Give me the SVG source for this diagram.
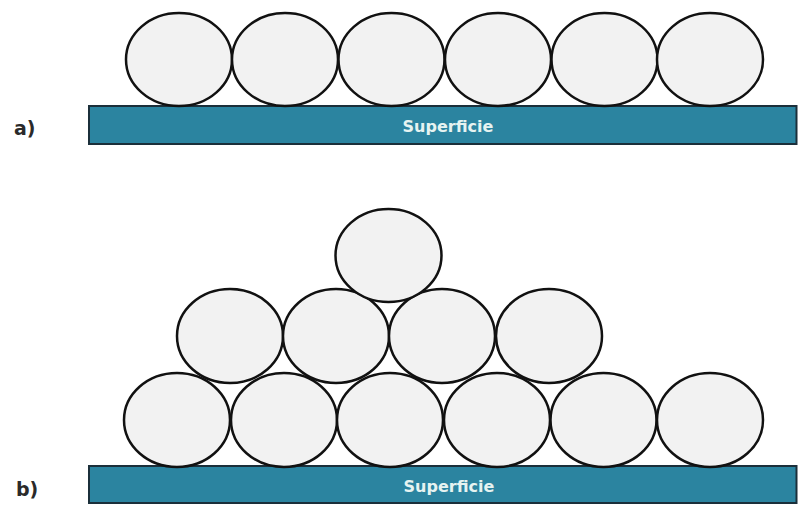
<svg xmlns="http://www.w3.org/2000/svg" width="798" height="505" viewBox="0 0 798 505">
<style>
.p{fill:#f2f2f2;stroke:#111;stroke-width:2.5}
.bar{fill:#2b84a0;stroke:#1b2f3a;stroke-width:2}
.lbl{font-family:"DejaVu Sans",sans-serif;font-weight:bold;font-size:16px;fill:#e6f3f1;text-anchor:middle}
.tag{font-family:"DejaVu Sans",sans-serif;font-weight:bold;font-size:19px;fill:#2a2a2a}
</style>
<rect width="798" height="505" fill="#fff"/>
<g id="panel-a">
<text class="tag" x="14" y="135">a)</text>
<g id="surface-a"><rect class="bar" x="89" y="106" width="707.5" height="38"/><text class="lbl" x="448" y="132">Superficie</text></g>
<g id="particles-a">
<ellipse class="p" cx="179" cy="59.5" rx="53" ry="46.5"/>
<ellipse class="p" cx="285" cy="59.5" rx="53" ry="46.5"/>
<ellipse class="p" cx="391.5" cy="59.5" rx="53" ry="46.5"/>
<ellipse class="p" cx="498" cy="59.5" rx="53" ry="46.5"/>
<ellipse class="p" cx="604.5" cy="59.5" rx="53" ry="46.5"/>
<ellipse class="p" cx="710" cy="59.5" rx="53" ry="46.5"/>
</g>
</g>
<g id="panel-b">
<text class="tag" x="16" y="496">b)</text>
<g id="surface-b"><rect class="bar" x="89" y="466" width="707.5" height="37"/><text class="lbl" x="449" y="492">Superficie</text></g>
<g id="particles-b">
<ellipse class="p" cx="177" cy="420" rx="53" ry="47"/>
<ellipse class="p" cx="284" cy="420" rx="53" ry="47"/>
<ellipse class="p" cx="390" cy="420" rx="53" ry="47"/>
<ellipse class="p" cx="497" cy="420" rx="53" ry="47"/>
<ellipse class="p" cx="603.5" cy="420" rx="53" ry="47"/>
<ellipse class="p" cx="710" cy="420" rx="53" ry="47"/>
<ellipse class="p" cx="230" cy="336" rx="53" ry="47"/>
<ellipse class="p" cx="336" cy="336" rx="53" ry="47"/>
<ellipse class="p" cx="442" cy="336" rx="53" ry="47"/>
<ellipse class="p" cx="549" cy="336" rx="53" ry="47"/>
<ellipse class="p" cx="388.5" cy="255.5" rx="53" ry="46.5"/>
</g>
</g>
</svg>
